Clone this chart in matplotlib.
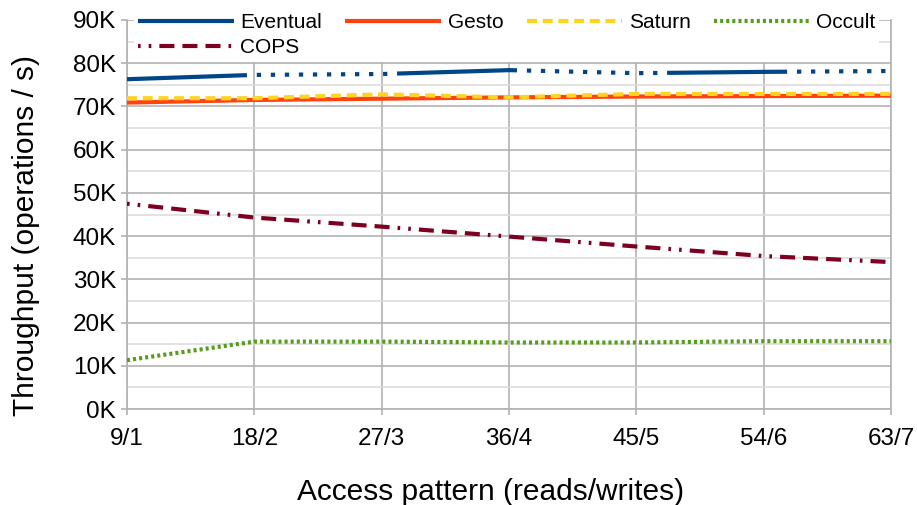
import matplotlib
matplotlib.use("Agg")
import matplotlib.pyplot as plt
from matplotlib.lines import Line2D
from matplotlib.ticker import MultipleLocator, FuncFormatter

plt.rcParams['font.family'] = ['Liberation Sans', 'DejaVu Sans']
plt.rcParams['lines.scale_dashes'] = False

# access patterns (reads/writes)
patterns = ['9/1', '18/2', '27/3', '36/4', '45/5', '54/6', '63/7']

# throughput in operations / s
eventual = [76300, 77300, 77500, 78400, 77700, 78000, 78200]
gesto = [70900, 71500, 71800, 72100, 72300, 72400, 72500]
saturn = [71900, 71900, 72800, 72100, 72900, 72900, 72900]
occult = [11300, 15600, 15600, 15400, 15400, 15700, 15700]
cops = [47500, 44300, 42200, 39900, 37600, 35400, 34000]

fig = plt.figure(figsize=(9.17, 5.05), dpi=100)
ax = fig.add_axes([0.1385, 0.19, 0.9717 - 0.1385, 0.9604 - 0.19])

x = range(len(patterns))
lw = 3.0

# Eventual: long solid stretches broken by dotted stretches
ev_dash = [86.4, 7.1] + [3.1, 7.0] * 10
sat_dash = [7.2, 4.1]
occ_dash = [2.2, 2.2]
cops_dash = [1.9, 5.8, 1.9, 5.8, 10.8, 5.8, 10.8, 5.8, 10.8, 5.8]

ax.plot(x, eventual, color='#004586', lw=lw, dashes=ev_dash, dash_capstyle='butt', zorder=3)
ax.plot(x, gesto, color='#ff420e', lw=lw, solid_capstyle='butt', zorder=3)
ax.plot(x, saturn, color='#ffd320', lw=lw, dashes=sat_dash, dash_capstyle='butt', zorder=4)
ax.plot(x, occult, color='#579d1c', lw=lw, dashes=occ_dash, dash_capstyle='butt', zorder=3)
ax.plot(x, cops, color='#7e0021', lw=lw, dashes=cops_dash, dash_capstyle='butt', zorder=3)

ax.set_xlim(0, len(patterns) - 1)
ax.set_ylim(0, 90000)
ax.set_xticks(list(x))
ax.set_xticklabels(patterns)
ax.yaxis.set_major_locator(MultipleLocator(10000))
ax.yaxis.set_minor_locator(MultipleLocator(5000))
ax.yaxis.set_major_formatter(FuncFormatter(lambda v, p: '%dK' % round(v / 1000)))

ax.grid(True, which='major', color='#b3b3b3', lw=1.2, zorder=0)
ax.grid(True, which='minor', axis='y', color='#dddddd', lw=1.2, zorder=0)
ax.set_axisbelow(True)

ax.spines['top'].set_visible(False)
for s in ['left', 'bottom', 'right']:
    ax.spines[s].set_color('#b3b3b3')
    ax.spines[s].set_linewidth(1.2)

ax.tick_params(axis='both', which='major', direction='out', length=4, width=1.2,
               color='#b3b3b3', labelsize=17.5, pad=4)
ax.tick_params(axis='y', which='minor', length=0)
ax.tick_params(axis='x', pad=10)

ax.set_xlabel('Access pattern (reads/writes)', fontsize=21.5)
ax.xaxis.set_label_coords(0.476, -0.178)
ax.set_ylabel('Throughput (operations / s)', fontsize=21.5, va='center')
ax.yaxis.set_label_coords(-0.132, 0.447)

# row-major order for the legend: Eventual Gesto Saturn Occult / COPS
handles = [
    Line2D([], [], color='#004586', lw=lw, solid_capstyle='butt'),
    Line2D([], [], color='#7e0021', lw=lw, dashes=cops_dash, dash_capstyle='butt'),
    Line2D([], [], color='#ff420e', lw=lw, solid_capstyle='butt'),
    Line2D([], [], color='#ffd320', lw=lw, dashes=sat_dash, dash_capstyle='butt'),
    Line2D([], [], color='#579d1c', lw=lw, dashes=occ_dash, dash_capstyle='butt'),
]
labels = ['Eventual', 'COPS', 'Gesto', 'Saturn', 'Occult']
leg = ax.legend(handles, labels, ncol=4, loc='upper center', bbox_to_anchor=(0.497, 1.055),
                fontsize=15, handlelength=4.6, handletextpad=0.3, columnspacing=1.12,
                labelspacing=0.3, frameon=True, fancybox=False, borderpad=0.2)
leg.get_frame().set_facecolor('white')
leg.get_frame().set_edgecolor('none')
leg.get_frame().set_alpha(1)

fig.savefig('out.png', dpi=100)
